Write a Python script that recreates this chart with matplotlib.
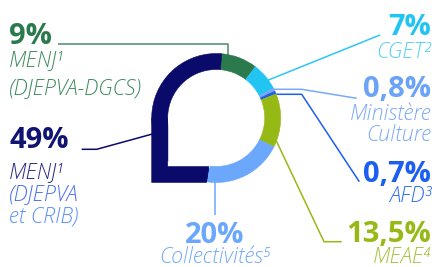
import matplotlib
matplotlib.use("Agg")
import numpy as np
import matplotlib.pyplot as plt
from matplotlib.patches import Polygon

# Données, dans le sens horaire à partir du haut
parts = [9, 7, 0.8, 0.7, 13.5, 20, 49]
pct_labels = ["9%", "7%", "0,8%", "0,7%", "13,5%", "20%", "49%"]
name_lines = [
    ["MENJ¹", "(DJEPVA-DGCS)"],
    ["CGET²"],
    ["Ministère", "Culture"],
    ["AFD³"],
    ["MEAE⁴"],
    ["Collectivités⁵"],
    ["MENJ¹", "(DJEPVA", "et CRIB)"],
]
ring_colors = ["#2b7a4d", "#22c4f2", "#78a9f6", "#1b5ef1", "#97b915", "#6ba7fb", "#0a0a6b"]
pct_colors = ["#2b7a4d", "#22c4f2", "#6aa3f8", "#1b5ef1", "#97b915", "#6ba7fb", "#111470"]
name_colors = [
    ["#3f8a5e", "#3f8a5e"],
    ["#56d0f5"],
    ["#7aaaf6", "#7aaaf6"],
    ["#2f6ef1"],
    ["#a6c33c"],
    ["#72a9f8"],
    ["#2a2a82", "#4a72ee", "#5d91fb"],
]

# mise en page (coordonnées en pixels de l'image, y vers le bas)
W, H = 436, 267
cx, cy = 216.2, 118.0
R, ring_w = 64.5, 16.0
start = 85

FONT = ["Open Sans", "DejaVu Sans"]


def Y(y):
    return H - y


fig = plt.figure(figsize=(W / 100, H / 100), dpi=100)
ax = fig.add_axes([0, 0, 1, 1])

wedges, _ = ax.pie(
    parts, colors=ring_colors, startangle=start, counterclock=False,
    radius=R, center=(cx, Y(cy)),
    wedgeprops=dict(width=ring_w, linewidth=0.4),
)
for wd, c in zip(wedges, ring_colors):
    wd.set_edgecolor(c)

# quart inférieur gauche en forme d'angle droit (goutte)
r_in = R - ring_w
e = np.radians(wedges[-1].theta2)
k = np.cos(e) / -np.sin(e)
C = np.array([cx, Y(cy)])
hole = np.array([(0, 0), (-r_in, 0), (-r_in, -r_in), (k * r_in, -r_in)]) + C
frame = np.array([(-R, 0), (-R, -R), (k * R, -R), (k * r_in, -r_in),
                  (-r_in, -r_in), (-r_in, 0)]) + C
ax.add_patch(Polygon(hole, closed=True, facecolor="white", edgecolor="white", lw=0.4, zorder=2))
ax.add_patch(Polygon(frame, closed=True, facecolor=ring_colors[-1], edgecolor=ring_colors[-1], lw=0.4, zorder=3))

# traits de rappel
leaders = [
    [(58, 44.3), (228.3, 44.3), (228.3, 58)],
    [(266, 81), (380, 35)],
    [(266, 89.3), (301.7, 89.3), (356.7, 98.3)],
    [(266, 94.3), (301.7, 94.3), (359.3, 181.7)],
    [(274, 136), (324, 241.7), (341.7, 241.7)],
    [(215, 178), (215, 215)],
    [(81.7, 149.3), (96.7, 149.3), (155, 133.3)],
]
line_colors = ["#4a8c66", "#2cc6f2", "#78a9f6", "#1b5ef1", "#97b915", "#6ba7fb", "#0a0a6b"]
for pts, c in zip(leaders, line_colors):
    xs = [p[0] for p in pts]
    ys = [Y(p[1]) for p in pts]
    ax.plot(xs, ys, color=c, lw=1.1, zorder=0.5, solid_capstyle="butt")

# étiquettes : (x, ha, ligne de base du %, lignes de base des libellés)
label_pos = [
    (9, "left", 44.3, [66, 94]),
    (431, "right", 35, [58]),
    (431, "right", 96.7, [120, 141]),
    (431, "right", 181.7, [201.7]),
    (431, "right", 241.7, [263]),
    (215, "center", 243, [263]),
    (9, "left", 148, [178, 200, 223]),
]
for i, (x, ha, yb, ybs) in enumerate(label_pos):
    ax.text(x, Y(yb), pct_labels[i], ha=ha, va="baseline", color=pct_colors[i],
            fontsize=21, fontweight="bold", family=FONT)
    for line, c, yl in zip(name_lines[i], name_colors[i], ybs):
        ax.text(x, Y(yl), line, ha=ha, va="baseline", color=c,
                fontsize=15.5, style="italic", fontweight="light", family=FONT)

ax.set_xlim(0, W)
ax.set_ylim(0, H)
ax.set_aspect("equal")
ax.axis("off")

fig.savefig("out.png", dpi=100)
plt.close(fig)
